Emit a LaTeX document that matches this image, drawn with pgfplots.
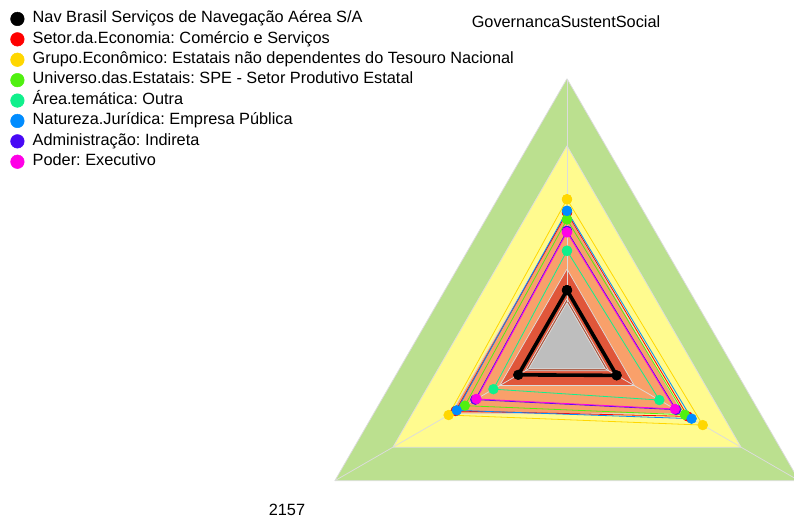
\documentclass[border=0pt]{standalone}
\usepackage{fontspec}
\setmainfont{Liberation Sans}
\usepackage{pgfplots}
\pgfplotsset{compat=1.18}
\usepgfplotslibrary{polar}
\frenchspacing

% background bands
\definecolor{bgreen}{RGB}{187,224,143}
\definecolor{byellow}{RGB}{255,251,143}
\definecolor{borange}{RGB}{249,160,106}
\definecolor{bred}{RGB}{224,86,58}
\definecolor{bsienna}{RGB}{170,82,58}
\definecolor{bgrey}{RGB}{190,190,190}
\definecolor{gridc}{RGB}{220,220,220}
% series
\definecolor{sgold}{RGB}{255,215,0}
\definecolor{sgreen}{RGB}{80,240,16}
\definecolor{sspring}{RGB}{16,240,140}
\definecolor{sblue}{RGB}{0,140,255}
\definecolor{spurple}{RGB}{72,8,245}
\definecolor{smagenta}{RGB}{255,0,230}

\begin{document}
\begin{tikzpicture}
\begin{polaraxis}[
  at={(0,0)}, anchor=center,
  scale only axis, width=536bp, height=536bp,
  ymin=0, ymax=1, hide axis, clip=false,
  every axis plot/.append style={line join=round},
  band/.style={draw=gridc, line width=0.75bp, forget plot},
  ser/.style={#1, line width=0.8bp, mark=*, mark size=4.9bp,
    mark options={solid, draw=#1, line width=0.5bp, fill=#1}},
  legend image code/.code={\draw[#1, mark size=6.8bp,
    mark options={solid, line width=0.5bp}] plot coordinates {(0bp,0bp)};},
  legend style={at={(-0.538,1.125)}, anchor=north west, draw=none,
    fill=none, inner sep=0pt, outer sep=0pt, row sep=5.9bp,
    column sep=8.5bp,
    font=\fontsize{16.3bp}{19bp}\selectfont,
    nodes={inner sep=0pt, text height=11bp, text depth=3.5bp}},
  legend cell align=left,
]
% bands, outer to inner
\addplot[band, fill=bgreen]  coordinates {(90,1) (210,1) (330,1) (90,1)};
\addplot[band, fill=byellow] coordinates {(90,0.75) (210,0.75) (330,0.75) (90,0.75)};
\addplot[band, fill=borange] coordinates {(90,0.5) (210,0.5) (330,0.5) (90,0.5)};
\addplot[band, fill=bred]    coordinates {(90,0.29) (210,0.29) (330,0.29) (90,0.29)};
\addplot[band, fill=bsienna] coordinates {(90,0.18) (210,0.18) (330,0.18) (90,0.18)};
% spokes
\addplot[gridc, line width=0.75bp, forget plot] coordinates {(90,0.165) (90,1)};
\addplot[gridc, line width=0.75bp, forget plot] coordinates {(210,0.165) (210,1)};
\addplot[gridc, line width=0.75bp, forget plot] coordinates {(330,0.165) (330,1)};
\addplot[band, fill=bgrey]   coordinates {(90,0.165) (210,0.165) (330,0.165) (90,0.165)};

% series
\addplot[ser=black, line width=3.6bp]
  coordinates {(90,0.211) (210,0.210) (330,0.214) (90,0.211)};
\addlegendentry{Nav Brasil Serviços de Navegação Aérea S/A}
\addplot[ser=red]
  coordinates {(90,0.500) (210,0.480) (330,0.520) (90,0.500)};
\addlegendentry{Setor.da.Economia: Comércio e Serviços}
\addplot[ser=sgold]
  coordinates {(90,0.550) (210,0.510) (330,0.585) (90,0.550)};
\addlegendentry{Grupo.Econômico: Estatais não dependentes do Tesouro Nacional}
\addplot[ser=sgreen]
  coordinates {(90,0.475) (210,0.440) (330,0.508) (90,0.475)};
\addlegendentry{Universo.das.Estatais: SPE - Setor Produtivo Estatal}
\addplot[ser=sspring]
  coordinates {(90,0.358) (210,0.317) (330,0.398) (90,0.358)};
\addlegendentry{Área.temática: Outra}
\addplot[ser=sblue]
  coordinates {(90,0.507) (210,0.475) (330,0.537) (90,0.507)};
\addlegendentry{Natureza.Jurídica: Empresa Pública}
\addplot[ser=spurple]
  coordinates {(90,0.432) (210,0.395) (330,0.470) (90,0.432)};
\addlegendentry{Administração: Indireta}
\addplot[ser=smagenta]
  coordinates {(90,0.427) (210,0.390) (330,0.465) (90,0.427)};
\addlegendentry{Poder: Executivo}
\end{polaraxis}
\node[anchor=base, font=\fontsize{16.3bp}{19bp}\selectfont] at (-1bp,318.7bp) {GovernancaSustentSocial};
\node[anchor=base, font=\fontsize{16.3bp}{19bp}\selectfont] at (-280bp,-168.3bp) {2157};
\pgfresetboundingbox
\path[use as bounding box] (-567bp,-172.3bp) rectangle (227bp,346.7bp);
\end{tikzpicture}
\end{document}
